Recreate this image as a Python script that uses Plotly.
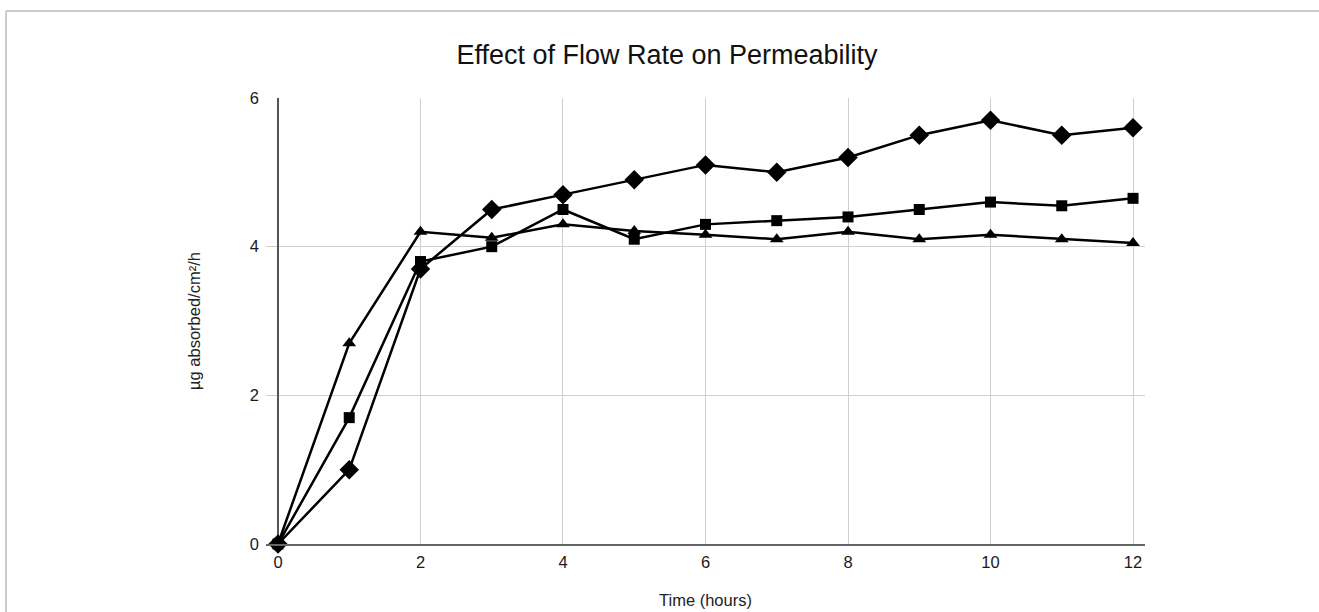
import plotly.graph_objects as go

hours = [0, 1, 2, 3, 4, 5, 6, 7, 8, 9, 10, 11, 12]
series_diamond = [0, 1.0, 3.7, 4.5, 4.7, 4.9, 5.1, 5.0, 5.2, 5.5, 5.7, 5.5, 5.6]
series_square = [0, 1.7, 3.8, 4.0, 4.5, 4.1, 4.3, 4.35, 4.4, 4.5, 4.6, 4.55, 4.65]
series_triangle = [0, 2.7, 4.2, 4.12, 4.3, 4.21, 4.16, 4.1, 4.2, 4.1, 4.16, 4.1, 4.05]
x_ticks = [0, 2, 4, 6, 8, 10, 12]
y_ticks = [0, 2, 4, 6]

FONT = "Liberation Sans, Arial, sans-serif"
W, H = 1319, 612
L, R, T, B = 266, 174, 98, 68
PW, PH = W - L - R, H - T - B

fig = go.Figure()
for name, vals, sym, size in [
    ("Series A", series_diamond, "diamond", 15),
    ("Series B", series_square, "square", 11),
    ("Series C", series_triangle, "triangle-up", 12),
]:
    fig.add_trace(go.Scatter(
        x=hours, y=vals, mode="lines+markers", name=name,
        line=dict(color="black", width=2.5),
        marker=dict(symbol=sym, size=size, color="black"),
        cliponaxis=False,
    ))

fig.update_layout(
    width=W, height=H,
    margin=dict(l=L, r=R, t=T, b=B, autoexpand=False),
    paper_bgcolor="white", plot_bgcolor="white",
    showlegend=False,
    font=dict(family=FONT, color="#222"),
    title=dict(text="Effect of Flow Rate on Permeability",
               x=667 / W, xref="container", xanchor="center",
               y=1 - 55 / H, yref="container", yanchor="middle",
               font=dict(size=27, color="#111", family=FONT)),
    xaxis=dict(range=[-0.168, 12.168], tickvals=x_ticks, showgrid=True,
               gridcolor="#cfcfcf", gridwidth=1.2, automargin=False,
               zeroline=True, zerolinecolor="#555", zerolinewidth=1.5,
               showline=True, linecolor="#666", linewidth=1.5,
               ticks="", tickfont=dict(size=16.5, color="#1a1a1a"),
               ticklabelstandoff=2,
               title=dict(text="Time (hours)", font=dict(size=16.5, color="#222"), standoff=25)),
    yaxis=dict(range=[0, 6], tickvals=y_ticks, showgrid=True,
               gridcolor="#cfcfcf", gridwidth=1.2, zeroline=False, automargin=False,
               ticks="", tickfont=dict(size=16.5, color="#1a1a1a"),
               ticklabelstandoff=6,
               title=dict(text="µg absorbed/cm²/h", font=dict(size=16.5, color="#222"), standoff=45)),
    shapes=[
        dict(type="line", xref="paper", yref="paper",
             x0=(6 - L) / PW, x1=(W - L) / PW,
             y0=(H - B - 11) / PH, y1=(H - B - 11) / PH,
             line=dict(color="#cccccc", width=2)),
        dict(type="line", xref="paper", yref="paper",
             x0=(6 - L) / PW, x1=(6 - L) / PW,
             y0=(H - B - 11) / PH, y1=(H - B - H) / PH,
             line=dict(color="#cccccc", width=2)),
    ],
)

fig.write_html("out.html", config={"displayModeBar": False},
               post_script="document.body.style.margin='0';")
